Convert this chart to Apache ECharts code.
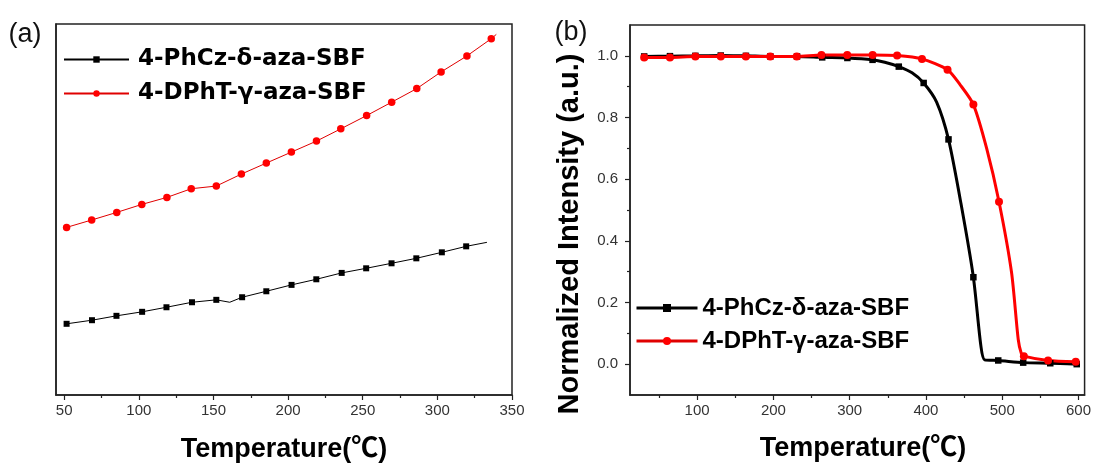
<!DOCTYPE html>
<html><head><meta charset="utf-8">
<script src="https://cdn.jsdelivr.net/npm/echarts@6/dist/echarts.min.js"></script>
<style>html,body{margin:0;padding:0;background:#fff}#c{width:1094px;height:465px}</style>
</head><body><div id="c"></div>
<script>
const seriesNames = ['4-PhCz-δ-aza-SBF', '4-DPhT-γ-aza-SBF'];
const panelLabels = ['(a)', '(b)'];
const xTitle = 'Temperature(℃)';
const yTitleB = 'Normalized Intensity (a.u.)';

// Panel (a): temperature vs arbitrary signal (no y scale shown)
const aTicks = [50, 100, 150, 200, 250, 300, 350];
const aMinorTicks = [75, 125, 175, 225, 275, 325];
const aPhCzT = [51.6, 68.6, 85.0, 102.2, 118.5, 135.6, 151.9, 169.2, 185.4, 202.3, 218.9, 235.9, 252.3, 269.3, 285.9, 303.0, 319.3];
const aPhCzV = [19.19, 20.16, 21.34, 22.42, 23.65, 25.00, 25.65, 26.35, 27.96, 29.68, 31.19, 32.91, 34.15, 35.50, 36.84, 38.46, 40.07];
const aPhCzLineT = [160.9, 333.2];
const aPhCzLineV = [25.0, 41.15];
const aDPhTT = [51.6, 68.4, 85.2, 102.0, 118.8, 135.1, 151.9, 168.7, 185.4, 202.2, 219.0, 235.3, 252.6, 269.4, 286.2, 302.5, 319.8, 336.1];
const aDPhTV = [45.18, 47.17, 49.22, 51.37, 53.26, 55.60, 56.32, 59.55, 62.51, 65.47, 68.43, 71.74, 75.32, 78.93, 82.59, 87.08, 91.39, 96.04];
const aDPhTLineT = [339.5];
const aDPhTLineV = [97.2];

// Panel (b): normalized TGA
const bTicks = [100, 200, 300, 400, 500, 600];
const bMinorTicks = [50, 150, 250, 350, 450, 550];
const bYTicks = [0, 0.2, 0.4, 0.6, 0.8, 1.0];
const bYMinorTicks = [0.1, 0.3, 0.5, 0.7, 0.9];
const bPhCzT = [30.6, 64.4, 97.7, 131.0, 164.0, 196.0, 231.0, 264.0, 297.0, 330.0, 364.4, 397.0, 429.6, 462.2, 494.8, 527.5, 563.0, 597.7];
const bPhCzV = [0.998, 0.999, 1.000, 1.001, 1.000, 0.998, 0.998, 0.995, 0.993, 0.987, 0.965, 0.912, 0.729, 0.282, 0.012, 0.005, 0.003, 0.000];
const bPhCzLineT = [346.0, 381.8, 414.0, 446.0, 472.0, 477.0, 600.0];
const bPhCzLineV = [0.979, 0.945, 0.850, 0.520, 0.060, 0.014, -0.002];
const bDPhTT = [30.6, 64.4, 97.7, 131.1, 163.9, 195.9, 230.6, 263.0, 296.8, 330.1, 362.2, 394.8, 428.3, 462.2, 495.8, 528.4, 560.1, 596.4];
const bDPhTV = [0.995, 0.995, 0.998, 0.998, 0.998, 0.998, 0.998, 1.003, 1.003, 1.003, 1.001, 0.990, 0.955, 0.842, 0.527, 0.026, 0.012, 0.008];
const bDPhTLineT = [444.9, 479.6, 512.2, 521.0, 525.0];
const bDPhTLineV = [0.906, 0.700, 0.298, 0.080, 0.035];

function build(T, V, LT, LV) {
  const pts = T.map((t, i) => ({ value: [t, V[i]] }))
    .concat(LT.map((t, i) => ({ value: [t, LV[i]], symbol: 'none' })));
  pts.sort((a, b) => a.value[0] - b.value[0]);
  return pts;
}

const FONT = '"Liberation Sans", Arial, "Noto Sans CJK SC", sans-serif';
const AX = '#222';
const LBL = '#333';

const chart = echarts.init(document.getElementById('c'));
const grids = [
  { left: 56, top: 24, right: 582, bottom: 70, show: true, borderColor: AX, borderWidth: 1.5 },
  { left: 630, top: 25, right: 7, bottom: 70, show: true, borderColor: AX, borderWidth: 1.5 }
];
function majorX(grid, min, max, ticks) {
  return {
    type: 'value', gridIndex: grid, min: min, max: max, position: 'bottom',
    axisLine: { show: true, onZero: false, lineStyle: { color: AX, width: 1.5 } },
    axisTick: { show: true, customValues: ticks, length: 5, lineStyle: { color: AX, width: 1.2 } },
    axisLabel: { customValues: ticks, fontSize: 15, color: LBL, fontFamily: FONT, margin: 8 },
    splitLine: { show: false }
  };
}
function minorX(grid, min, max, ticks) {
  return {
    type: 'value', gridIndex: grid, min: min, max: max, position: 'bottom',
    axisLine: { show: false, onZero: false },
    axisTick: { show: true, customValues: ticks, length: 3, lineStyle: { color: AX, width: 1.2 } },
    axisLabel: { show: false },
    splitLine: { show: false }
  };
}
const option = {
  animation: false,
  backgroundColor: '#fff',
  grid: grids,
  xAxis: [
    majorX(0, 44.5, 350, aTicks),
    minorX(0, 44.5, 350, aMinorTicks),
    majorX(1, 12, 608, bTicks),
    minorX(1, 12, 608, bMinorTicks)
  ],
  yAxis: [
    { type: 'value', gridIndex: 0, min: 0, max: 100, position: 'left',
      axisLine: { show: true, onZero: false, lineStyle: { color: AX, width: 1.5 } },
      axisTick: { show: false }, axisLabel: { show: false }, splitLine: { show: false } },
    { type: 'value', gridIndex: 1, min: -0.1, max: 1.1, position: 'left',
      axisLine: { show: true, onZero: false, lineStyle: { color: AX, width: 1.5 } },
      axisTick: { show: true, customValues: bYTicks, length: 5, lineStyle: { color: AX, width: 1.2 } },
      axisLabel: { customValues: bYTicks, fontSize: 15, color: LBL, fontFamily: FONT, margin: 12,
        formatter: v => Number(v).toFixed(1) },
      splitLine: { show: false } },
    { type: 'value', gridIndex: 1, min: -0.1, max: 1.1, position: 'left', offset: 0,
      axisLine: { show: false, onZero: false },
      axisTick: { show: true, customValues: bYMinorTicks, length: 3, lineStyle: { color: AX, width: 1.2 } },
      axisLabel: { show: false }, splitLine: { show: false } }
  ],
  legend: [
    { left: 63, top: 47, orient: 'vertical', padding: 0, itemWidth: 65, itemHeight: 8, itemGap: 9,
      data: seriesNames, selectedMode: false,
      textStyle: { fontFamily: '"DejaVu Sans", sans-serif', fontWeight: 'bold', fontSize: 23, lineHeight: 25, color: '#000', padding: [0, 0, 0, 4] } },
    { left: 635, top: 295, orient: 'vertical', padding: 0, itemWidth: 61, itemHeight: 10, itemGap: 7,
      data: seriesNames, selectedMode: false, lineStyle: { width: 3 },
      textStyle: { fontFamily: FONT, fontWeight: 'bold', fontSize: 24, lineHeight: 26, color: '#000' } }
  ],
  series: [
    { name: seriesNames[0], type: 'line', xAxisIndex: 0, yAxisIndex: 0, data: build(aPhCzT, aPhCzV, aPhCzLineT, aPhCzLineV),
      symbol: 'rect', symbolSize: 6, showAllSymbol: true, color: '#000', lineStyle: { width: 1, color: '#000' }, itemStyle: { color: '#000' } },
    { name: seriesNames[1], type: 'line', xAxisIndex: 0, yAxisIndex: 0, data: build(aDPhTT, aDPhTV, aDPhTLineT, aDPhTLineV),
      symbol: 'circle', symbolSize: 7.5, showAllSymbol: true, color: '#ff0000', lineStyle: { width: 1, color: '#e00000' }, itemStyle: { color: '#ff0000' } },
    { name: seriesNames[0], type: 'line', xAxisIndex: 2, yAxisIndex: 1, data: build(bPhCzT, bPhCzV, bPhCzLineT, bPhCzLineV),
      smooth: 0.25,
      symbol: 'rect', symbolSize: 6.5, showAllSymbol: true, color: '#000', lineStyle: { width: 3, color: '#000' }, itemStyle: { color: '#000' } },
    { name: seriesNames[1], type: 'line', xAxisIndex: 2, yAxisIndex: 1, data: build(bDPhTT, bDPhTV, bDPhTLineT, bDPhTLineV),
      smooth: 0.25,
      symbol: 'circle', symbolSize: 8, showAllSymbol: true, color: '#ff0000', lineStyle: { width: 3, color: '#ff0000' }, itemStyle: { color: '#ff0000' } }
  ],
  graphic: [
    { type: 'text', x: 25, y: 35, style: { text: panelLabels[0], fontSize: 27, fontFamily: FONT, fill: '#111', align: 'center', verticalAlign: 'middle' } },
    { type: 'text', x: 571, y: 33, style: { text: panelLabels[1], fontSize: 27, fontFamily: FONT, fill: '#111', align: 'center', verticalAlign: 'middle' } },
    { type: 'text', x: 284, y: 450, style: { text: xTitle, fontSize: 27, fontWeight: 'bold', fontFamily: FONT, fill: '#000', align: 'center', verticalAlign: 'middle' } },
    { type: 'text', x: 863, y: 449, style: { text: xTitle, fontSize: 27, fontWeight: 'bold', fontFamily: FONT, fill: '#000', align: 'center', verticalAlign: 'middle' } },
    { type: 'text', x: 570, y: 234, rotation: Math.PI / 2, style: { text: yTitleB, fontSize: 29, fontWeight: 'bold', fontFamily: FONT, fill: '#000', align: 'center', verticalAlign: 'middle' } }
  ]
};
chart.setOption(option);
</script>
</body></html>
